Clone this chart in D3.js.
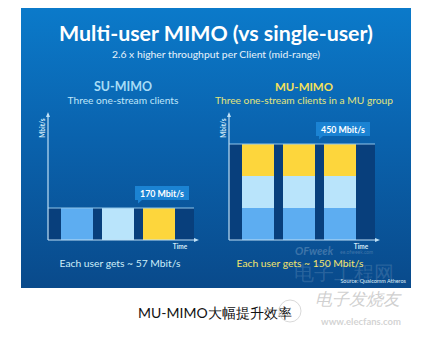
<!DOCTYPE html>
<html><head><meta charset="utf-8">
<script src="https://cdn.jsdelivr.net/npm/d3@7"></script>
<style>
html,body{margin:0;padding:0;background:#fff;}
svg{display:block;}
text{font-family:Lato,"Open Sans","DejaVu Sans",sans-serif;}
</style></head>
<body>
<svg id="chart" width="421" height="339"></svg>
<script>
// ---- data ----
const timeSlots = ["t1", "t2", "t3"];
const userNames = ["User A", "User B", "User C"];
// streams served per time slot for each user (SU: one user per slot, MU: all three at once)
const suStreams = [[1, 0, 0], [0, 1, 0], [0, 0, 1]];
const muStreams = [[1, 1, 1], [1, 1, 1], [1, 1, 1]];
const suTotalLabel = "170 Mbit/s";
const muTotalLabel = "450 Mbit/s";
const suPerUser = "Each user gets ~ 57 Mbit/s";
const muPerUser = "Each user gets ~ 150 Mbit/s";
const maxStreams = 3;

const userColors = ["#5dadf1", "#b9e4fb", "#fdd63c"];

const svg = d3.select("#chart");

// scale a text's font size so that its natural width matches a target width
function fit(sel, targetW) {
  const node = sel.node();
  const fs = parseFloat(sel.attr("font-size"));
  const w = node.getComputedTextLength();
  if (w > 0) sel.attr("font-size", (fs * targetW / w).toFixed(2));
  return sel;
}

const defs = svg.append("defs");
const grad = defs.append("linearGradient").attr("id", "bg").attr("x1", 0).attr("y1", 0).attr("x2", 0).attr("y2", 1);
grad.append("stop").attr("offset", "0%").attr("stop-color", "#0b7aca");
grad.append("stop").attr("offset", "45%").attr("stop-color", "#0a63ae");
grad.append("stop").attr("offset", "100%").attr("stop-color", "#094a8b");

// panel
svg.append("rect").attr("x", 21).attr("y", 8).attr("width", 390).attr("height", 280).attr("fill", "url(#bg)");

// titles
fit(svg.append("text").attr("x", 216).attr("y", 41).attr("text-anchor", "middle")
  .attr("font-size", 22).attr("font-weight", 700).attr("fill", "#ffffff")
  .text("Multi-user MIMO (vs single-user)"), 314);
fit(svg.append("text").attr("x", 216).attr("y", 58).attr("text-anchor", "middle")
  .attr("font-size", 11).attr("fill", "#e8f3fb")
  .text("2.6 x higher throughput per Client (mid-range)"), 208);

const yScale = d3.scaleLinear().domain([0, maxStreams]).range([240, 144]);

function panel(ox, data, opts) {
  const g = svg.append("g");
  const x = d3.scaleBand().domain(timeSlots).range([ox + 13, ox + 127]).paddingInner(9 / 41).paddingOuter(0);
  const totals = data.map(d => d3.sum(d));
  const top = d3.max(totals);
  const lineY = yScale(top);
  const lineEnd = ox + 146;

  // header texts
  fit(g.append("text").attr("x", opts.cx).attr("y", 91).attr("text-anchor", "middle")
    .attr("font-size", 15).attr("font-weight", 700).attr("fill", opts.headColor).text(opts.head), 58);
  fit(g.append("text").attr("x", opts.cx).attr("y", 103.5).attr("text-anchor", "middle")
    .attr("font-size", 11).attr("fill", opts.subColor).text(opts.sub), opts.subW);

  // dark band area
  g.append("rect").attr("x", ox).attr("y", lineY).attr("width", lineEnd - ox).attr("height", yScale(0) - lineY)
    .attr("fill", "#083f7c");

  // stacked bars
  const stack = d3.stack().keys([0, 1, 2]).value((d, k) => d[k]);
  const series = stack(data);
  series.forEach((s, k) => {
    g.selectAll(null).data(s.map((v, i) => ({v, i})).filter(d => d.v[1] > d.v[0])).join("rect")
      .attr("x", d => x(timeSlots[d.i]))
      .attr("width", x.bandwidth())
      .attr("y", d => yScale(d.v[1]))
      .attr("height", d => yScale(d.v[0]) - yScale(d.v[1]))
      .attr("fill", userColors[k]);
  });

  // capacity line
  g.append("line").attr("x1", ox).attr("x2", lineEnd).attr("y1", lineY).attr("y2", lineY)
    .attr("stroke", "#8fc6ea").attr("stroke-width", 1.2);

  // axes
  const axCol = "#bfe0f5";
  g.append("line").attr("x1", ox).attr("x2", ox).attr("y1", yScale(0)).attr("y2", 114).attr("stroke", axCol).attr("stroke-width", 1.2);
  g.append("path").attr("d", `M${ox - 2},${117} L${ox},${112} L${ox + 2},${117}Z`).attr("fill", axCol);
  g.append("line").attr("x1", ox).attr("x2", ox + 148).attr("y1", yScale(0)).attr("y2", yScale(0)).attr("stroke", axCol).attr("stroke-width", 1.2);
  g.append("path").attr("d", `M${ox + 146},${yScale(0) - 2} L${ox + 151},${yScale(0)} L${ox + 146},${yScale(0) + 2}Z`).attr("fill", axCol);
  g.append("text").attr("x", ox - 3).attr("y", 128).attr("transform", `rotate(-90 ${ox - 3} 128)`)
    .attr("text-anchor", "middle").attr("font-size", 6.5).attr("font-weight", 700).attr("fill", "#d6ecf8").text("Mbit/s");
  g.append("text").attr("x", ox + 132).attr("y", 249).attr("text-anchor", "middle")
    .attr("font-size", 6.5).attr("font-weight", 700).attr("fill", "#d6ecf8").text("Time");

  // callout
  const bx = x(timeSlots[2]) - 8, bw = 54, bh = 14, by = lineY - 8 - bh;
  g.append("path").attr("d", `M${bx},${by} h${bw} v${bh} h${-bw + 7} l-4,3.5 v-3.5 h-3 Z`).attr("fill", "#1b83d3");
  fit(g.append("text").attr("x", bx + bw / 2).attr("y", by + 10.5).attr("text-anchor", "middle")
    .attr("font-size", 10).attr("font-weight", 700).attr("fill", "#ffffff").text(opts.total), 44);

  // per-user
  fit(g.append("text").attr("x", opts.cx2).attr("y", 267).attr("text-anchor", "middle")
    .attr("font-size", 13).attr("fill", opts.perColor).text(opts.per), opts.perW);
}

panel(48, suStreams, {cx: 123, head: "SU-MIMO", headColor: "#a7dcf6", sub: "Three one-stream clients", subColor: "#bfe6f9", subW: 111,
  total: suTotalLabel, per: suPerUser, perColor: "#cdeef9", perW: 121, cx2: 120});
panel(229, muStreams, {cx: 304, head: "MU-MIMO", headColor: "#f6e15a", sub: "Three one-stream clients in a MU group", subColor: "#e1e47c", subW: 178,
  total: muTotalLabel, per: muPerUser, perColor: "#f3e46c", perW: 127, cx2: 300});

// watermark OFweek
svg.append("text").attr("x", 295).attr("y", 255).attr("font-size", 11).attr("font-style", "italic").attr("font-weight", 700)
  .attr("fill", "#ffffff").attr("fill-opacity", 0.22).text("OFweek");
svg.append("text").attr("x", 340).attr("y", 254).attr("font-size", 5).attr("fill", "#ffffff").attr("fill-opacity", 0.22).text("ee.ofweek.com");
svg.append("text").attr("x", 344).attr("y", 280).attr("text-anchor", "middle").attr("font-size", 20)
  .attr("font-family", "Noto Sans CJK SC").attr("fill", "#ffffff").attr("fill-opacity", 0.14).text("电子工程网");
svg.append("text").attr("x", 406).attr("y", 283).attr("text-anchor", "end").attr("font-size", 5.5)
  .attr("fill", "#dcecf8").text("Source: Qualcomm Atheros");

// caption
svg.append("text").attr("x", 138).attr("y", 318).attr("font-size", 14)
  .attr("font-family", "Noto Sans CJK SC").attr("fill", "#111").text("MU-MIMO大幅提升效率");

// elecfans watermark
svg.append("circle").attr("cx", 290).attr("cy", 311).attr("r", 11).attr("fill", "none").attr("stroke", "#c8c8c8").attr("stroke-opacity", 0.7);
svg.append("text").attr("x", 357).attr("y", 305).attr("text-anchor", "middle").attr("font-size", 17).attr("font-style", "italic")
  .attr("font-family", "Noto Sans CJK SC").attr("fill", "#c4c4c4").attr("fill-opacity", 0.8).text("电子发烧友");
svg.append("text").attr("x", 361).attr("y", 325).attr("text-anchor", "middle").attr("font-size", 9.5).attr("font-weight", 700)
  .attr("fill", "#c8c8c8").attr("fill-opacity", 0.8).text("www.elecfans.com");
</script>
</body></html>
